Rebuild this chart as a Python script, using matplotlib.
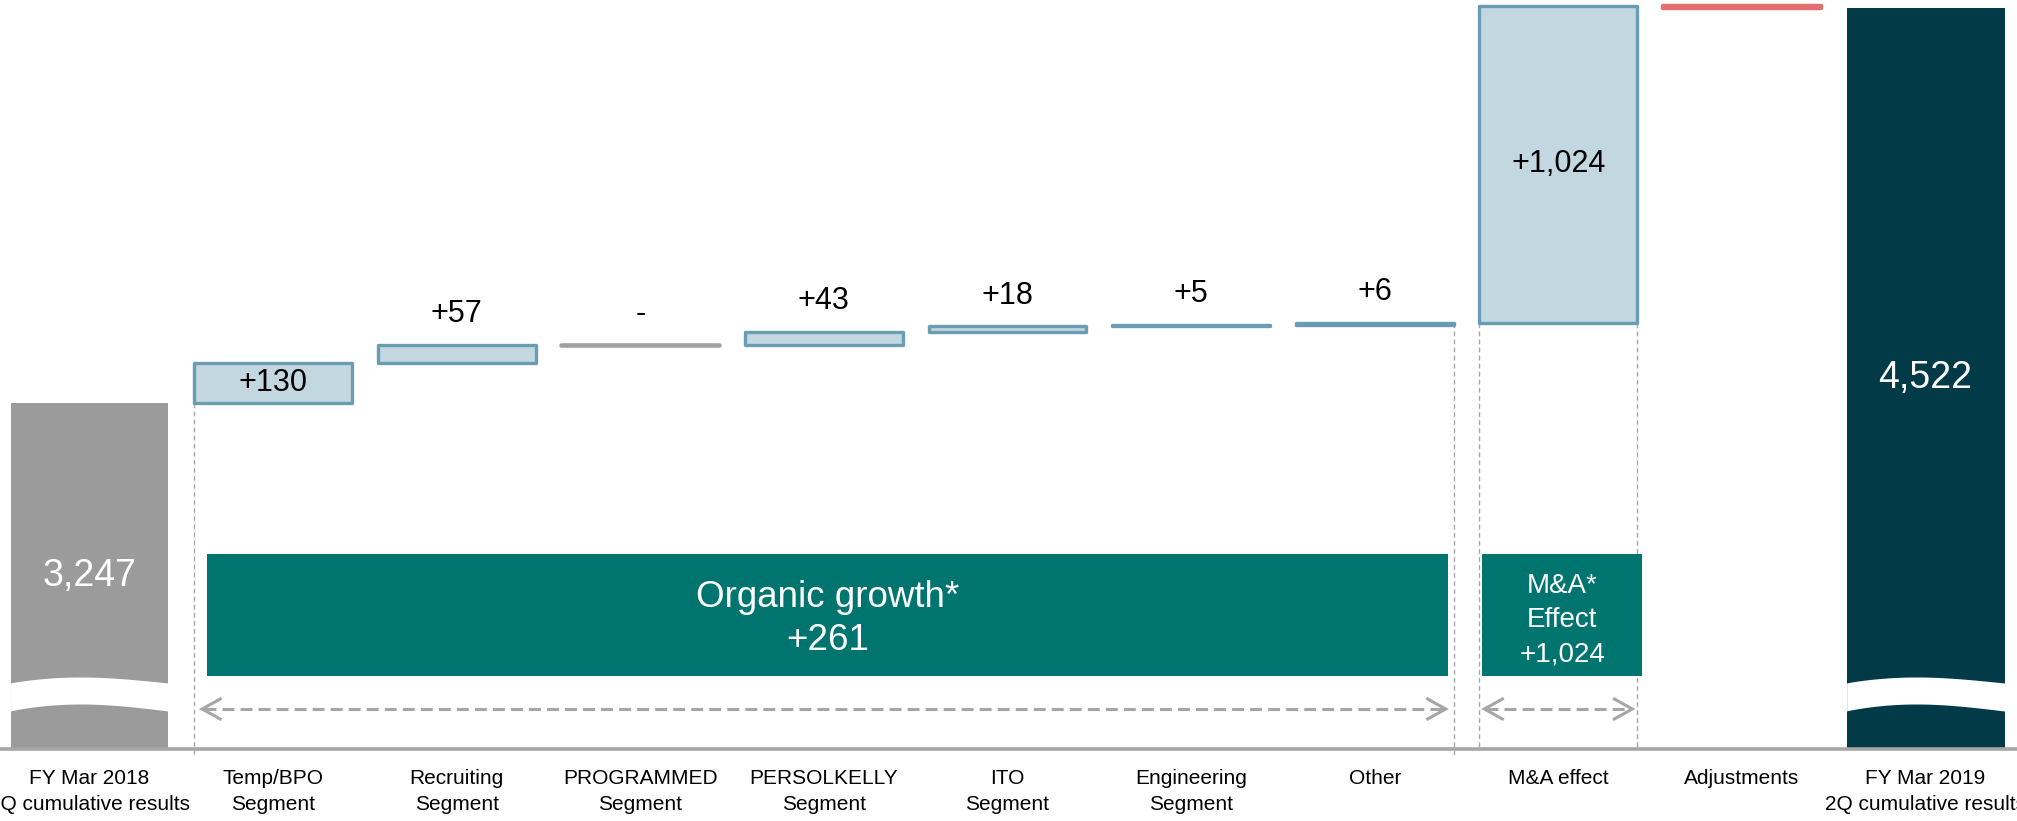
import numpy as np
import matplotlib.pyplot as plt

plt.rcParams['font.family'] = ['Liberation Sans', 'DejaVu Sans']

# <----------------------- data ----------------------->
categories = ["FY Mar 2018\n2Q cumulative results",
              "Temp/BPO\nSegment",
              "Recruiting\nSegment",
              "PROGRAMMED\nSegment",
              "PERSOLKELLY\nSegment",
              "ITO\nSegment",
              "Engineering\nSegment",
              "Other",
              "M&A effect",
              "Adjustments",
              "FY Mar 2019\n2Q cumulative results"]
start_value = 3247
end_value = 4522
steps = [130, 57, 0, 43, 18, 5, 6, 1024, -8]
step_labels = ["+130", "+57", "-", "+43", "+18", "+5", "+6", "+1,024", ""]
organic_growth = 261
ma_effect = 1024

# <----------------------- layout ----------------------->
base = 2130            # broken bars start here
X0, X1 = -0.4875, 10.498
Y0, Y1 = 1897, 4548
W_PX, H_PX = 2017, 821
dx = (X1 - X0) / W_PX  # data units per pixel
dy = (Y1 - Y0) / H_PX
w = 0.86


def ypx(p):
    return Y1 - p * dy


grey = "#9b9b9b"
light = "#c3d7e0"
edge = "#6a9cb2"
red = "#e46f73"
navy = "#023a48"
teal = "#00756f"
arrow_c = "#a6a6a6"

fig = plt.figure(figsize=(W_PX / 100, H_PX / 100), dpi=100)
ax = fig.add_axes([0, 0, 1, 1])
ax.set_xlim(X0, X1)
ax.set_ylim(Y0, Y1)
ax.axis("off")


def wave_break(xc):
    # white wavy band that marks the cut in a total bar
    t = np.linspace(0, 1, 80)
    xs = xc - w / 2 + t * w
    bump = np.sin(np.pi * t ** 0.85)
    top = ypx(683) + 6 * dy * bump
    bot = ypx(711) + 7 * dy * bump
    ax.fill_between(xs, bot, top, color="white", lw=0, zorder=3)


# <----------- first and last totals --------------->
ax.bar(0, start_value - base, bottom=base, width=w, color=grey, zorder=2)
ax.text(0, (start_value + base) / 2, f"{start_value:,}", color="white",
        fontsize=27, ha="center", va="center", zorder=4)
wave_break(0)

n = len(categories) - 1
ax.bar(n, end_value - base, bottom=base, width=w, color=navy, zorder=2)
ax.text(n, (end_value + base) / 2, f"{end_value:,}", color="white",
        fontsize=27, ha="center", va="center", zorder=4)
wave_break(n)

# <----------- steps of the waterfall --------------->
level = start_value
levels = []
for i, (d, lab) in enumerate(zip(steps, step_labels), start=1):
    lo, hi = min(level, level + d), max(level, level + d)
    if d == 0:
        ax.plot([i - w / 2, i + w / 2], [level, level], color="#a0a0a0",
                lw=3.3, solid_capstyle="round", zorder=3)
    elif d < 0:
        ax.bar(i, hi - lo, bottom=lo, width=w, color=red, edgecolor=red,
               lw=3.2, joinstyle="round", zorder=3)
    else:
        ax.bar(i, d, bottom=level, width=w, color=light, edgecolor=edge,
               lw=2.4, joinstyle="round", zorder=3)
    if lab:
        if d >= 100:
            ax.text(i, (lo + hi) / 2, lab, fontsize=22, ha="center",
                    va="center", zorder=4)
        else:
            ax.annotate(lab, (i, hi), xytext=(0, 22), textcoords="offset points",
                        fontsize=22, ha="center", va="center", zorder=4)
    levels.append((lo, hi))
    level += d

# <----------- dashed guides --------------->
guide = dict(color=arrow_c, lw=1, dashes=(3.4, 2.4), zorder=1)
ax.plot([1 - w / 2] * 2, [levels[0][0], ypx(757)], **guide)
ax.plot([7 + w / 2] * 2, [levels[6][1], ypx(757)], **guide)
ax.plot([8 - w / 2] * 2, [levels[7][0], base], **guide)
ax.plot([8 + w / 2] * 2, [levels[7][0], base], **guide)

# axis line
ax.axhline(base, color="#a6a6a6", lw=2.6, zorder=2)

# <----------- organic / M&A boxes --------------->
band_lo, band_hi = ypx(676), ypx(554)
org_x0, org_x1 = 1 - w / 2 + 13 * dx, 7 + w / 2 - 6 * dx
ma_x0, ma_x1 = 8 - w / 2 + 3 * dx, 8 + w / 2 + 5 * dx
ax.add_patch(plt.Rectangle((org_x0, band_lo), org_x1 - org_x0, band_hi - band_lo,
                           color=teal, lw=0, zorder=3))
ax.add_patch(plt.Rectangle((ma_x0, band_lo), ma_x1 - ma_x0, band_hi - band_lo,
                           color=teal, lw=0, zorder=3))
ax.text((org_x0 + org_x1) / 2, ypx(619),
        f"Organic growth*\n+{organic_growth}", color="white", fontsize=26.5,
        ha="center", va="center", linespacing=1.26, zorder=4)
ax.text((ma_x0 + ma_x1) / 2, ypx(620),
        f"M&A*\nEffect\n+{ma_effect:,}", color="white", fontsize=20,
        ha="center", va="center", linespacing=1.4, zorder=4)


def span_arrow(xa, xb):
    y = ypx(709)
    ax.plot([xa + 2 * dx, xb - 2 * dx], [y, y], color=arrow_c, lw=2.2,
            dashes=(3.9, 2.0), zorder=3)
    hx, hy = 18 * dx, 10 * dy
    for tip, s in ((xa, 1), (xb, -1)):
        ax.plot([tip + s * hx, tip, tip + s * hx], [y + hy, y, y - hy],
                color=arrow_c, lw=2.2, solid_joinstyle="miter", zorder=3)


span_arrow(1 - w / 2 + 8 * dx, 7 + w / 2 - 8 * dx)
span_arrow(8 - w / 2 + 5 * dx, 8 + w / 2 - 5 * dx)

# <----------- category labels --------------->
for i, cat in enumerate(categories):
    ax.text(i, ypx(769), cat, fontsize=15, ha="center", va="top",
            linespacing=1.45)

fig.savefig("out.png", dpi=100)
